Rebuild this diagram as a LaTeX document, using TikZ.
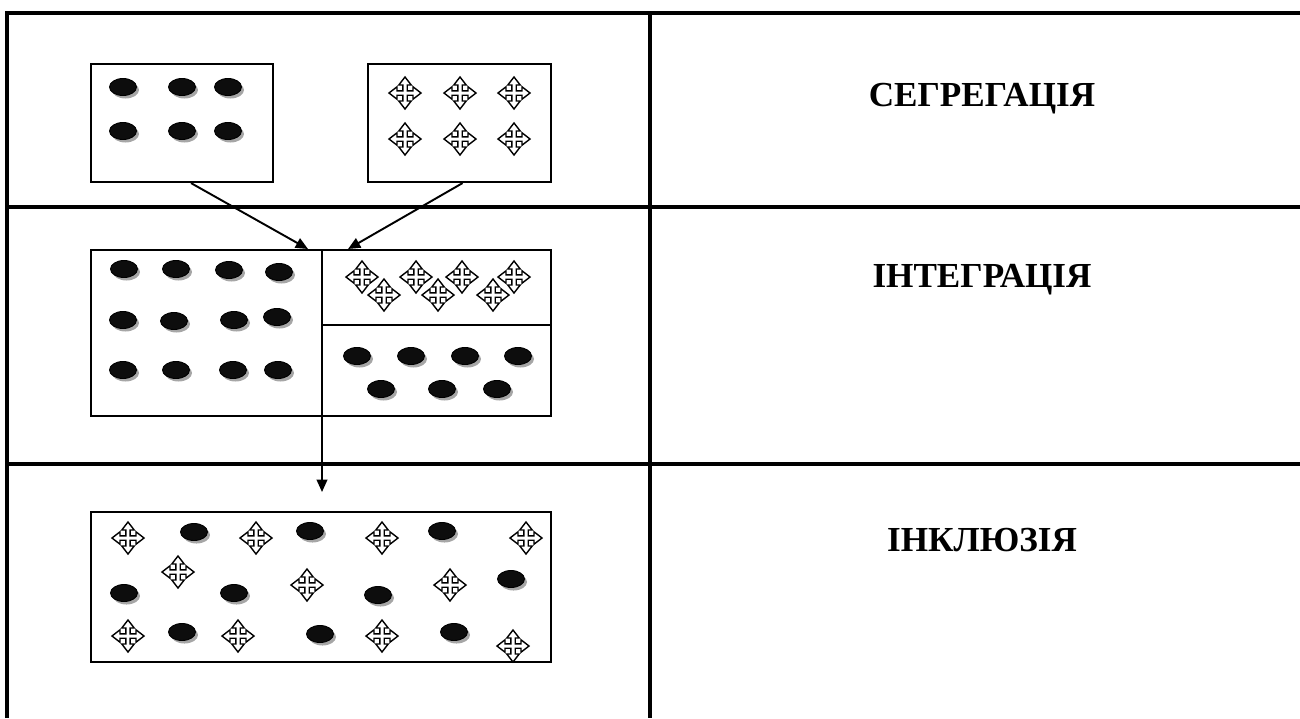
\documentclass[tikz,border=0pt]{standalone}
\usepackage{fontspec}
\setmainfont{Liberation Serif}
\usetikzlibrary{arrows.meta}

\tikzset{
  grid/.style={line width=1.8pt},
  box/.style={draw=black,line width=1.2pt,inner sep=0pt,anchor=north west},
  link/.style={line width=1.1pt,-{Triangle[length=7pt,width=6pt]}},
  title/.style={font=\bfseries\fontsize{20}{23}\selectfont,inner sep=0pt},
  dot/.pic={\fill[gray!70] (2.5,3) ellipse (13.5 and 8.5);
            \draw[black,fill=black!95,line width=0.5pt] (0,0) ellipse (13.5 and 8.5);},
  cross/.pic={\draw[line width=0.8pt,fill=white,line join=miter]
    (2.2,2.2) -- (2.2,8) -- (6.2,8) -- (0,16) -- (-6.2,8) -- (-2.2,8) -- (-2.2,2.2)
    -- (-8,2.2) -- (-8,6.2) -- (-16,0) -- (-8,-6.2) -- (-8,-2.2) -- (-2.2,-2.2)
    -- (-2.2,-8) -- (-6.2,-8) -- (0,-16) -- (6.2,-8) -- (2.2,-8) -- (2.2,-2.2)
    -- (8,-2.2) -- (8,-6.2) -- (16,0) -- (8,6.2) -- (8,2.2) -- cycle;}
}

\begin{document}
\begin{tikzpicture}[x=0.02cm,y=-0.02cm]
    \useasboundingbox (0,0) rectangle (1300,718);

    \draw[grid] (7,718) -- (7,13) -- (1300,13);
    \draw[grid] (650,13) -- (650,718);
    \draw[grid] (7,207) -- (1300,207);
    \draw[grid] (7,464) -- (1300,464);

    \node[title] (seg) at (982,99) {СЕГРЕГАЦІЯ};
    \node[title] (int) at (982,280) {ІНТЕГРАЦІЯ};
    \node[title] (inc) at (982,540) {ІНКЛЮЗІЯ};

    \node[box,minimum width=3.64cm,minimum height=2.36cm] (segA) at (90,63) {};
    \node[box,minimum width=3.66cm,minimum height=2.36cm] (segB) at (367,63) {};
    \node[box,minimum width=9.2cm,minimum height=3.32cm] (intbox) at (90,249) {};
    \node[box,minimum width=9.2cm,minimum height=3.0cm] (inclbox) at (90,511) {};

    \coordinate (div) at (322,249);
    \coordinate (mid) at (322,325);
    \coordinate (incltop) at (322,492);
    \draw[line width=1.2pt] (div) -- (div |- intbox.south);
    \draw[line width=1.2pt] (mid) -- (mid -| intbox.east);

    \path[link] ([xshift=0.18cm]segA.south) edge ([xshift=-0.26cm]intbox.north);
    \path[link] ([xshift=0.06cm]segB.south) edge ([xshift=0.54cm]intbox.north);
    \path[link] (div |- intbox.south) edge (incltop);

    \foreach \p in {(123,87),(182,87),(228,87),(123,131),(182,131),(228,131)}
        \pic at \p {dot};
    \foreach \p in {(405,93),(460,93),(514,93),(405,139),(460,139),(514,139)}
        \pic at \p {cross};

    \foreach \p in {(124,269),(176,269),(229,270),(279,272),(123,320),(174,321),
                    (234,320),(277,317),(123,370),(176,370),(233,370),(278,370)}
        \pic at \p {dot};
    \foreach \p in {(362,277),(384,295),(416,277),(438,295),(462,277),(493,295),(514,277)}
        \pic at \p {cross};
    \foreach \p in {(357,356),(411,356),(465,356),(518,356),(381,389),(442,389),(497,389)}
        \pic at \p {dot};

    \foreach \p in {(128,538),(256,538),(382,538),(526,538),(178,572),(307,585),
                    (450,585),(128,636),(238,636),(382,636),(513,646)}
        \pic at \p {cross};
    \foreach \p in {(194,532),(310,531),(442,531),(124,593),(234,593),(378,595),
                    (511,579),(182,632),(320,634),(454,632)}
        \pic at \p {dot};
\end{tikzpicture}
\end{document}
